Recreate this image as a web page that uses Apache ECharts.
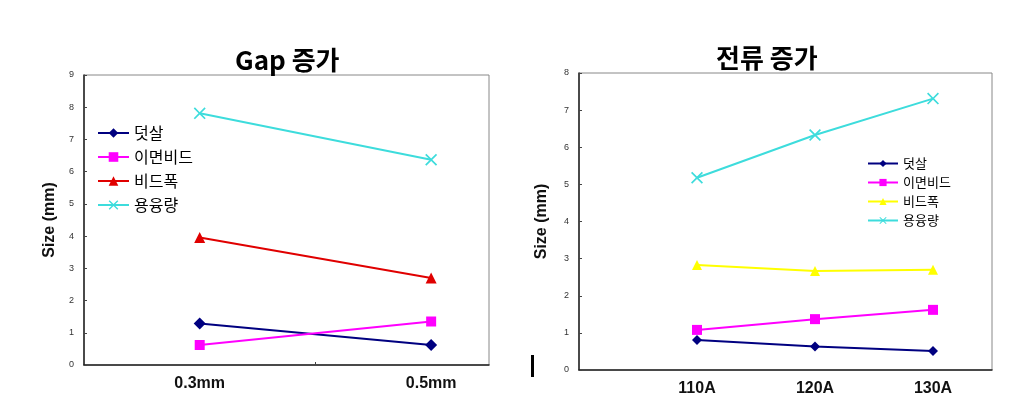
<!DOCTYPE html>
<html>
<head>
<meta charset="utf-8">
<script src="https://cdn.jsdelivr.net/npm/echarts@6/dist/echarts.min.js"></script>
<style>
html,body{margin:0;padding:0;background:#fff;}
#wrap{width:1036px;height:411px;position:relative;}
#echarts1{position:absolute;left:0;top:0;width:518px;height:411px;}
#echarts2{position:absolute;left:518px;top:0;width:518px;height:411px;}
</style>
</head>
<body>
<div id="wrap"><div id="echarts1"></div><div id="echarts2"></div></div>
<script>
// 계열 이름
var seriesNames = ['덧살', '이면비드', '비드폭', '용융량']

// Gap 증가
var gapCategories = ['0.3mm', '0.5mm']
var gapDeotsal = [1.29, 0.62]
var gapImyeon = [0.62, 1.35]
var gapBeadWidth = [3.96, 2.70]
var gapMelt = [7.81, 6.37]

// 전류 증가
var curCategories = ['110A', '120A', '130A']
var curDeotsal = [0.81, 0.63, 0.51]
var curImyeon = [1.08, 1.37, 1.62]
var curBeadWidth = [2.83, 2.67, 2.70]
var curMelt = [5.18, 6.33, 7.31]

var FONT = 'Liberation Sans, Arial, sans-serif'
var KFONT = 'Noto Sans CJK KR, sans-serif'
var X_SYMBOL = 'path://M0,1L1,0L5,4L9,0L10,1L6,5L10,9L9,10L5,6L1,10L0,9L4,5Z'

var toPoints = function (values) {
    var pts = []
    for (var i = 0; i < values.length; i++) {
        pts.push([i + 1, values[i]])
    }
    return pts
}

var makeSeries = function (name, values, color, symbol, size) {
    return {
        name: name,
        type: 'line',
        data: toPoints(values),
        symbol: symbol,
        symbolSize: size,
        lineStyle: {color: color, width: 2},
        itemStyle: {color: color},
        animation: false,
        z: 3
    }
}

var makeXAxis = function (cats, min, max, tickValues, fontSize) {
    return {
        type: 'value',
        min: min,
        max: max,
        splitLine: {show: false},
        axisLine: {show: true, lineStyle: {color: '#222', width: 1.5}},
        axisTick: {show: tickValues.length > 0, inside: true, length: 3, customValues: tickValues, lineStyle: {color: '#444'}},
        axisLabel: {
            customValues: cats.map(function (c, i) { return i + 1 }),
            formatter: function (v) { return cats[Math.round(v) - 1] || '' },
            fontFamily: FONT,
            fontWeight: 'bold',
            fontSize: fontSize,
            color: '#111',
            margin: 11
        }
    }
}

var makeYAxis = function (max, nameGap) {
    return {
        type: 'value',
        min: 0,
        max: max,
        interval: 1,
        name: 'Size (mm)',
        nameLocation: 'middle',
        nameRotate: 90,
        nameGap: nameGap,
        nameTextStyle: {fontFamily: FONT, fontWeight: 'bold', fontSize: 16, color: '#111'},
        splitLine: {show: false},
        axisLine: {show: true, lineStyle: {color: '#222', width: 1.5}},
        axisTick: {show: true, inside: true, length: 3, lineStyle: {color: '#444'}},
        axisLabel: {fontFamily: FONT, fontSize: 9, color: '#333', margin: 10}
    }
}

var echarts1_func = function () {
    var echarts1 = echarts.init(document.getElementById('echarts1'))
    var option1 = {
        backgroundColor: '#fff',
        animation: false,
        title: {
            text: 'Gap 증가',
            left: 230,
            top: 42,
            textStyle: {fontFamily: KFONT, fontWeight: 'bold', fontSize: 26, color: '#000'}
        },
        legend: {
            data: seriesNames,
            orient: 'vertical',
            left: 97,
            top: 125,
            padding: 0,
            itemWidth: 31,
            itemHeight: 12,
            itemGap: 8,
            textStyle: {fontFamily: KFONT, fontSize: 16, color: '#000'}
        },
        grid: {
            left: 84, right: 29, top: 75, bottom: 46,
            show: true, borderColor: '#888', borderWidth: 1, backgroundColor: '#fff'
        },
        xAxis: makeXAxis(gapCategories, 0.5, 2.25, [1.5], 16),
        yAxis: makeYAxis(9, 26),
        series: [
            makeSeries(seriesNames[0], gapDeotsal, '#000080', 'diamond', 12),
            makeSeries(seriesNames[1], gapImyeon, '#FF00FF', 'rect', 10),
            makeSeries(seriesNames[2], gapBeadWidth, '#E00000', 'triangle', 11),
            makeSeries(seriesNames[3], gapMelt, '#3DDCDC', X_SYMBOL, 12)
        ]
    }
    echarts1.setOption(option1)
}

var echarts2_func = function () {
    var echarts2 = echarts.init(document.getElementById('echarts2'))
    var option2 = {
        backgroundColor: '#fff',
        animation: false,
        title: {
            text: '전류 증가',
            left: 193,
            top: 40,
            textStyle: {fontFamily: KFONT, fontWeight: 'bold', fontSize: 26, color: '#000'}
        },
        legend: {
            data: seriesNames,
            orient: 'vertical',
            left: 349,
            top: 157,
            padding: 0,
            itemWidth: 30,
            itemHeight: 9,
            itemGap: 6,
            textStyle: {fontFamily: KFONT, fontSize: 13, color: '#000'}
        },
        grid: {
            left: 61, right: 44, top: 73, bottom: 41,
            show: true, borderColor: '#888', borderWidth: 1, backgroundColor: '#fff'
        },
        xAxis: makeXAxis(curCategories, 0, 3.5, [], 16),
        yAxis: makeYAxis(8, 29),
        graphic: [{
            type: 'rect',
            shape: {x: 13, y: 355, width: 3, height: 22},
            style: {fill: '#000'}
        }],
        series: [
            makeSeries(seriesNames[0], curDeotsal, '#000080', 'diamond', 10),
            makeSeries(seriesNames[1], curImyeon, '#FF00FF', 'rect', 10),
            makeSeries(seriesNames[2], curBeadWidth, '#FFFF00', 'triangle', 10),
            makeSeries(seriesNames[3], curMelt, '#3DDCDC', X_SYMBOL, 12)
        ]
    }
    echarts2.setOption(option2)
}

echarts1_func()
echarts2_func()
</script>
</body>
</html>
